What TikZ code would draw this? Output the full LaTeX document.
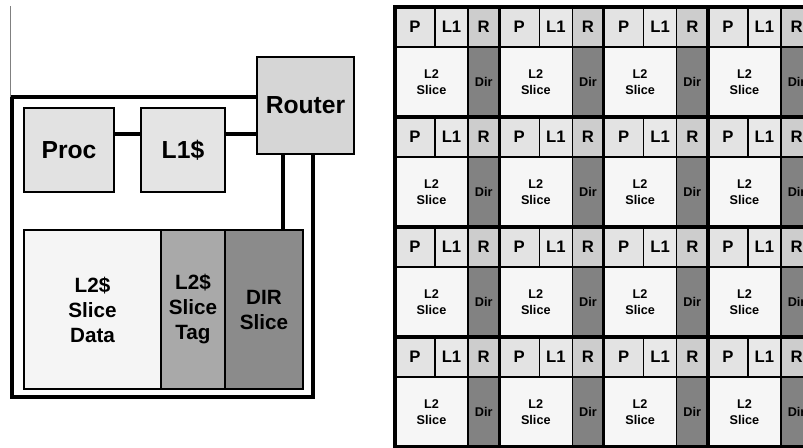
\documentclass[tikz,border=0pt]{standalone}
\usepackage{xcolor}
\usepackage{fontspec}
\setmainfont{Liberation Sans}
\usepackage{tikz}
\usetikzlibrary{positioning}

\definecolor{rtrgray}{HTML}{D6D6D6}
\definecolor{procgray}{HTML}{E2E2E2}
\definecolor{lonegray}{HTML}{E4E4E4}
\definecolor{datagray}{HTML}{F5F5F5}
\definecolor{taggray}{HTML}{A9A9A9}
\definecolor{dirgray}{HTML}{8B8B8B}
\definecolor{pgray}{HTML}{E3E3E3}
\definecolor{lgray}{HTML}{E8E8E8}
\definecolor{rgray}{HTML}{CDCDCD}
\definecolor{slgray}{HTML}{F6F6F6}
\definecolor{dgray}{HTML}{828282}

\begin{document}
\begin{tikzpicture}[x=0.75pt,y=-0.75pt,
  box/.style={draw, line width=2.2pt, outer sep=0pt, inner sep=0pt, font=\bfseries\fontsize{18.5}{20}\selectfont},
  part/.style={draw, line width=2.2pt, outer sep=0pt, inner sep=0pt, align=center, minimum height=119.25pt, font=\bfseries\fontsize{15.5}{18.75}\selectfont},
  link/.style={line width=2.5pt},
  cell/.style={draw, line width=1.1pt, outer sep=0pt, inner sep=0pt, minimum height=30pt, font=\bfseries\fontsize{12.5}{14}\selectfont},
  slab/.style={draw, line width=1.1pt, outer sep=0pt, inner sep=0pt, minimum height=52.5pt, align=center, font=\bfseries\fontsize{9.5}{12}\selectfont},
  tile/.style={draw, line width=2.4pt}]

\useasboundingbox (0,0) rectangle (803,447);

\node[box, fill=rtrgray, minimum size=72.75pt] (rtr) at (305.5,105.5) {Router};
\node[box, fill=procgray, minimum width=67.5pt, minimum height=63pt] (proc) at (69,150) {Proc};
\node[box, fill=lonegray, minimum size=63pt] (lone) at (183,150) {L1\$};

\node[part, fill=datagray, minimum width=102.75pt, anchor=north west] (data) at (24,230) {L2\$\\Slice\\Data};
\node[part, fill=taggray, minimum width=48pt, right=0pt of data] (tag) {L2\$\\Slice\\Tag};
\node[part, fill=dirgray, minimum width=58.5pt, right=0pt of tag] (dir) {DIR\\Slice};

\draw[link] ([yshift=12pt]proc.east) -- ([yshift=12pt]lone.west);
\draw[link] ([yshift=12pt]lone.east) -- ([yshift=12pt]lone.east -| rtr.west);
\draw[link] ([xshift=-16.9pt]rtr.south) -- ([xshift=-16.9pt]rtr.south |- dir.north);

\coordinate (ringtl) at (12,97);
\coordinate (ringbr) at (313,397);
\draw[link, line width=3pt] (rtr.west |- ringtl) -- (ringtl) -- (ringtl |- ringbr) -- (ringbr) -- (ringbr |- rtr.south);
\draw[gray, line width=0.6pt] ([xshift=-1.5pt]ringtl) -- ([xshift=-1.5pt]ringtl |- 0,6);

\begin{scope}
\clip (0,0) rectangle (803,447);
\foreach \r in {0,...,3}
  \foreach \c in {0,...,3} {
    \node[cell, fill=pgray, minimum width=30pt, anchor=north west] (p\r\c) at (395+104.3*\c, 7+110*\r) {P};
    \node[cell, fill=lgray, minimum width=24.75pt, right=0pt of p\r\c] (l\r\c) {L1};
    \node[cell, fill=rgray, minimum width=23.5pt, right=0pt of l\r\c] (r\r\c) {R};
    \node[slab, fill=slgray, minimum width=54.75pt, below=0pt of p\r\c.south west, anchor=north west] (s\r\c) {L2\\Slice};
    \node[slab, fill=dgray, minimum width=23.5pt, right=0pt of s\r\c] (d\r\c) {Dir};
    \draw[tile] (p\r\c.north west) rectangle (d\r\c.south east);
  }
\end{scope}
\end{tikzpicture}
\end{document}
